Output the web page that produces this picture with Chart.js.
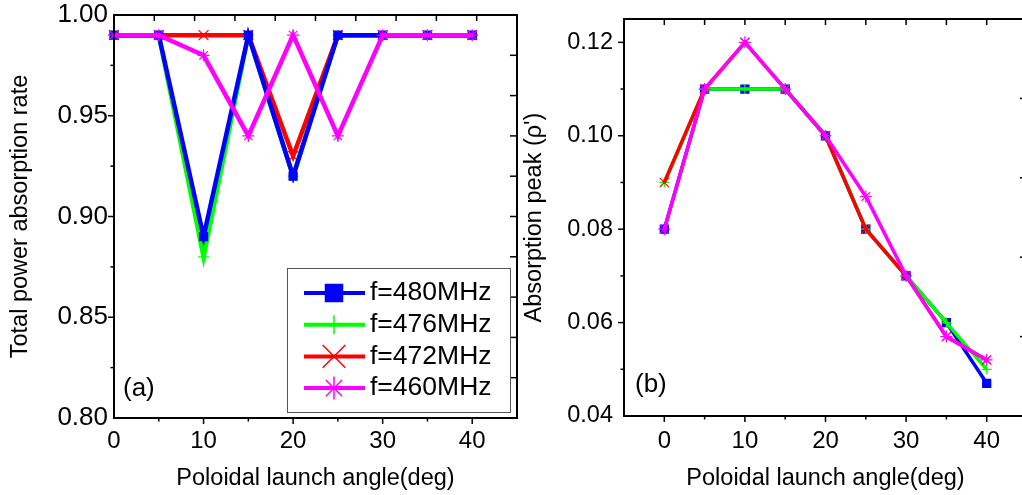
<!DOCTYPE html>
<html>
<head>
<meta charset="utf-8">
<script src="https://cdn.jsdelivr.net/npm/chart.js@4/dist/chart.umd.min.js"></script>
<style>
  html, body { margin: 0; padding: 0; background: #fff; overflow: hidden; width: 1022px; height: 495px; }
  #panelA { position: absolute; left: 0; top: 0; }
  #panelB { position: absolute; left: 520px; top: 0; }
</style>
</head>
<body>
<canvas id="panelA" width="520" height="495"></canvas>
<canvas id="panelB" width="512" height="495"></canvas>
<script>
// data
const angles = [0, 5, 10, 15, 20, 25, 30, 35, 40];
const seriesNames = ['f=480MHz', 'f=476MHz', 'f=472MHz', 'f=460MHz'];

// (a) total power absorption rate
const rate480 = [0.99, 0.99, 0.89, 0.99, 0.92, 0.99, 0.99, 0.99, 0.99];
const rate476 = [0.99, 0.99, 0.88, 0.99, 0.92, 0.99, 0.99, 0.99, 0.99];
const rate472 = [0.99, 0.99, 0.99, 0.99, 0.93, 0.99, 0.99, 0.99, 0.99];
const rate460 = [0.99, 0.99, 0.98, 0.94, 0.99, 0.94, 0.99, 0.99, 0.99];

// (b) absorption peak
const peak480 = [0.08, 0.11, 0.11, 0.11, 0.10, 0.08, 0.07, 0.06, 0.047];
const peak476 = [0.09, 0.11, 0.11, 0.11, 0.10, 0.08, 0.07, 0.06, 0.05];
const peak472 = [0.09, 0.11, 0.12, 0.11, 0.10, 0.08, 0.07, 0.057, 0.052];
const peak460 = [0.08, 0.11, 0.12, 0.11, 0.10, 0.087, 0.07, 0.057, 0.052];

// tick values (labelled ones are picked by the callbacks)
const xTicks = [-5, 0, 5, 10, 15, 20, 25, 30, 35, 40, 45];
const yTicksA = [0.8, 0.825, 0.85, 0.875, 0.9, 0.925, 0.95, 0.975, 1.0];
const yTicksB = [0.04, 0.05, 0.06, 0.07, 0.08, 0.09, 0.10, 0.11, 0.12];

const panelTags = ['(a)', '(b)'];
const titleX = 'Poloidal launch angle(deg)';
const titleYA = 'Total power absorption rate';
const titleYB = "Absorption peak (\u03c1')";

const colors = ['#0000ff', '#00ff00', '#ff0000', '#ff00ff'];
const markers = ['rect', 'cross', 'crossRot', 'star'];

const FONT = "'Liberation Sans', Arial, sans-serif";
Chart.defaults.font.family = FONT;
Chart.defaults.color = '#000';

function seg(ctx, x1, y1, x2, y2) {
  ctx.beginPath();
  ctx.moveTo(x1, y1);
  ctx.lineTo(x2, y2);
  ctx.stroke();
}

// frame, tick marks and panel tag
const frameTicks = {
  id: 'frameTicks',
  afterDraw(chart, args, o) {
    const { ctx, chartArea: a, scales } = chart;
    const w = a.right - a.left, h = a.bottom - a.top;
    ctx.save();
    ctx.strokeStyle = '#000';
    ctx.lineWidth = 1.5;
    scales.x.ticks.forEach(t => {
      const px = scales.x.getPixelForValue(t.value);
      if (px <= a.left + 1 || px >= a.right - 1) return;
      seg(ctx, px, a.bottom, px, a.bottom + (t.label ? 6 : 3.5));
      if (o.mirrorTop) seg(ctx, px, a.top, px, a.top + 6);
    });
    scales.y.ticks.forEach(t => {
      const py = scales.y.getPixelForValue(t.value);
      if (py <= a.top + 1 || py >= a.bottom - 1) return;
      seg(ctx, a.left, py, a.left - (t.label ? 6 : 3.5), py);
    });
    for (let k = 1; k < o.topDiv; k++) {
      const px = a.left + k * w / o.topDiv;
      seg(ctx, px, a.top, px, a.top + 6);
    }
    for (let k = 1; k < o.rightDiv; k++) {
      const py = a.top + k * h / o.rightDiv;
      seg(ctx, a.right, py, a.right - 7, py);
    }
    ctx.lineWidth = 2;
    ctx.strokeRect(a.left, a.top, w, h);
    ctx.fillStyle = '#000';
    ctx.font = '26px ' + FONT;
    ctx.textBaseline = 'middle';
    ctx.fillText(o.tag, o.tagX, o.tagY);
    ctx.restore();
  }
};

function marker(ctx, style, r, x, y) {
  if (Chart.helpers && Chart.helpers.drawPoint) {
    Chart.helpers.drawPoint(ctx, { pointStyle: style, radius: r, rotation: 0, borderWidth: ctx.lineWidth }, x, y);
  }
}

// boxed legend inside panel (a)
const boxLegend = {
  id: 'boxLegend',
  afterDraw(chart, args, o) {
    if (!o.show) return;
    const ctx = chart.ctx;
    ctx.save();
    ctx.fillStyle = '#fff';
    ctx.fillRect(o.x, o.y, o.w, o.h);
    ctx.strokeStyle = '#555';
    ctx.lineWidth = 1;
    ctx.strokeRect(o.x + 0.5, o.y + 0.5, o.w, o.h);
    chart.data.datasets.forEach((ds, i) => {
      const ry = o.y + o.first + i * o.step;
      ctx.strokeStyle = ds.borderColor;
      ctx.lineWidth = 4;
      seg(ctx, o.x + o.lineFrom, ry, o.x + o.lineTo, ry);
      ctx.fillStyle = ds.pointStyle === 'rect' ? ds.borderColor : 'rgba(0,0,0,0)';
      ctx.lineWidth = 1.5;
      marker(ctx, ds.pointStyle, o.radius[i], o.x + o.markAt, ry);
      ctx.fillStyle = '#000';
      ctx.font = '26.5px ' + FONT;
      ctx.textBaseline = 'middle';
      ctx.fillText(ds.label, o.x + o.textAt, ry);
    });
    ctx.restore();
  }
};

function buildSets(values, orders, lineW, radius) {
  return values.map((v, i) => ({
    label: seriesNames[i],
    data: angles.map((a, k) => ({ x: a, y: v[k] })),
    borderColor: colors[i],
    backgroundColor: colors[i],
    borderWidth: lineW,
    pointStyle: markers[i],
    pointRadius: radius[i],
    pointBorderWidth: 1.2,
    pointBackgroundColor: markers[i] === 'rect' ? colors[i] : 'rgba(0,0,0,0)',
    pointBorderColor: colors[i],
    order: orders[i],
    tension: 0,
    clip: false
  }));
}

function xLabel(v) {
  return (v % 10 === 0 && v >= 0 && v <= 40) ? String(v) : '';
}

function fixX(h) {
  return s => { s.height = h; s.paddingLeft = 0; s.paddingRight = 0; };
}
function fixY(w) {
  return s => { s.width = w; s.paddingTop = 0; s.paddingBottom = 0; };
}
function useTicks(list) {
  return s => { s.ticks = list.filter(v => v >= s.min - 1e-9 && v <= s.max + 1e-9).map(v => ({ value: v })); };
}

new Chart(document.getElementById('panelA'), {
  type: 'line',
  data: { datasets: buildSets([rate480, rate476, rate472, rate460], [1, 3, 2, 0], 4.5, [5.7, 5.5, 7, 6]) },
  plugins: [frameTicks, boxLegend],
  options: {
    responsive: false,
    animation: false,
    devicePixelRatio: 1,
    layout: { autoPadding: false, padding: { top: 15, right: 3, left: 0, bottom: 0 } },
    scales: {
      x: {
        type: 'linear', min: 0, max: 45,
        grid: { display: false, drawTicks: false },
        border: { display: false },
        ticks: { autoSkip: false, maxRotation: 0, padding: 9, font: { size: 24 }, callback: xLabel },
        afterBuildTicks: useTicks(xTicks),
        title: { display: true, text: titleX, font: { size: 23.5 }, padding: 2 },
        afterFit: fixX(77)
      },
      y: {
        type: 'linear', min: 0.8, max: 1.0,
        grid: { display: false, drawTicks: false },
        border: { display: false },
        ticks: {
          autoSkip: false, padding: 6, font: { size: 26 },
          callback: v => Math.abs(v * 20 - Math.round(v * 20)) < 1e-6 ? v.toFixed(2) : ''
        },
        afterBuildTicks: useTicks(yTicksA),
        title: { display: true, text: titleYA, font: { size: 23.5 }, padding: 6 },
        afterFit: fixY(114)
      }
    },
    plugins: {
      legend: { display: false },
      tooltip: { enabled: false },
      frameTicks: { mirrorTop: false, topDiv: 10, rightDiv: 10, tag: panelTags[0], tagX: 123, tagY: 389 },
      boxLegend: {
        show: true, x: 287, y: 268, w: 223, h: 144,
        first: 25, step: 31.7, lineFrom: 17, lineTo: 78, markAt: 47, textAt: 83,
        radius: [12, 9.5, 16, 11.5]
      }
    }
  }
});

new Chart(document.getElementById('panelB'), {
  type: 'line',
  data: { datasets: buildSets([peak480, peak476, peak472, peak460], [3, 2, 1, 0], 3.5, [5.7, 5, 6.5, 6]) },
  plugins: [frameTicks],
  options: {
    responsive: false,
    animation: false,
    devicePixelRatio: 1,
    layout: { autoPadding: false, padding: { top: 19, right: 5, left: 0, bottom: 0 } },
    scales: {
      x: {
        type: 'linear', min: -5, max: 45,
        grid: { display: false, drawTicks: false },
        border: { display: false },
        ticks: { autoSkip: false, maxRotation: 0, padding: 11, font: { size: 24 }, callback: xLabel },
        afterBuildTicks: useTicks(xTicks),
        title: { display: true, text: titleX, font: { size: 23.5 }, padding: 2 },
        afterFit: fixX(79)
      },
      y: {
        type: 'linear', min: 0.04, max: 0.125,
        grid: { display: false, drawTicks: false },
        border: { display: false },
        ticks: {
          autoSkip: false, padding: 11, font: { size: 23.5 },
          callback: v => Math.abs(v * 50 - Math.round(v * 50)) < 1e-6 ? v.toFixed(2) : ''
        },
        afterBuildTicks: useTicks(yTicksB),
        title: { display: true, text: titleYB, font: { size: 23.5 }, padding: 0 },
        afterFit: fixY(104)
      }
    },
    plugins: {
      legend: { display: false },
      tooltip: { enabled: false },
      frameTicks: { mirrorTop: true, topDiv: 0, rightDiv: 5, tag: panelTags[1], tagX: 115, tagY: 385 },
      boxLegend: { show: false }
    }
  }
});
</script>
</body>
</html>
